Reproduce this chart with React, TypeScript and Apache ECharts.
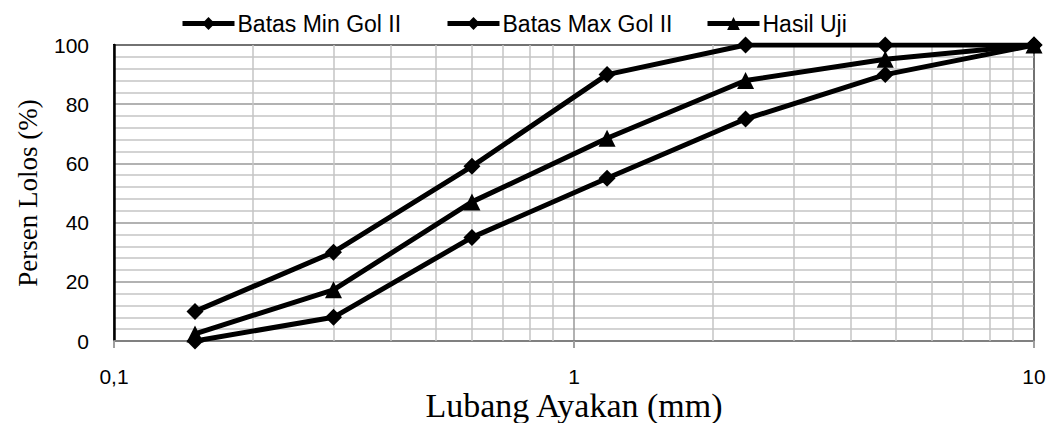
import React, { useEffect, useRef } from "react";
import * as echarts from "echarts";

const sieveSizes = [0.15, 0.3, 0.6, 1.18, 2.36, 4.75, 10];
const batasMin = [0, 8, 35, 55, 75, 90, 100];
const batasMax = [10, 30, 59, 90, 100, 100, 100];
const hasilUji = [2.4, 17.3, 47, 68.5, 88, 95.2, 100];
const minorXTicks = [0.2, 0.3, 0.4, 0.5, 0.6, 0.7, 0.8, 0.9, 2, 3, 4, 5, 6, 7, 8, 9];
const seriesNames = ["Batas Min Gol II", "Batas Max Gol II", "Hasil Uji"];
const legendLefts = [180, 445, 705];

const sans = "'Liberation Sans', Arial, sans-serif";
const serif = "'Liberation Serif', 'Times New Roman', serif";

export default function App() {
  const ref = useRef<HTMLDivElement>(null);
  useEffect(() => {
    document.body.style.margin = "0";
    if (!ref.current) return;
    const chart = echarts.init(ref.current, undefined, { renderer: "svg" });
    const pairs = (ys: number[]) => sieveSizes.map((x, i) => [x, ys[i]]);
    const mk = (name: string, ys: number[], symbol: string, size: number) => ({
      name,
      type: "line",
      data: pairs(ys),
      symbol,
      symbolSize: size,
      z: 5,
      lineStyle: { color: "#000", width: 5 },
      itemStyle: { color: "#000" },
    });
    chart.setOption({
      animation: false,
      backgroundColor: "#fff",
      legend: seriesNames.map((n, i) => ({
        left: legendLefts[i],
        top: 12,
        padding: 0,
        itemWidth: 52,
        itemHeight: 16,
        itemGap: 5,
        textStyle: { fontFamily: sans, fontSize: 23, color: "#000", padding: [0, 0, 0, -2] },
        lineStyle: { width: 5 },
        data: [n],
      })),
      grid: {
        left: 114,
        right: 16,
        top: 45,
        bottom: 82,
        show: true,
        borderColor: "#000",
        borderWidth: 2,
        containLabel: false,
        outerBoundsMode: "none",
      },
      xAxis: {
        type: "log",
        logBase: 10,
        min: 0.1,
        max: 10,
        name: "Lubang Ayakan (mm)",
        nameLocation: "middle",
        nameGap: 47,
        nameMoveOverlap: false,
        nameTextStyle: { fontFamily: serif, fontSize: 34, lineHeight: 34, color: "#000" },
        axisLine: { show: true, lineStyle: { color: "#808080", width: 2 } },
        axisTick: { show: true, length: 7, lineStyle: { color: "#a0a0a0", width: 2 } },
        axisLabel: {
          fontFamily: sans,
          fontSize: 21,
          lineHeight: 21,
          color: "#000",
          margin: 25,
          formatter: (v: number) => String(v).replace(".", ","),
        },
        splitLine: { show: true, lineStyle: { color: "#999", width: 1.5 } },
      },
      yAxis: {
        type: "value",
        min: 0,
        max: 100,
        interval: 20,
        name: "Persen Lolos (%)",
        nameLocation: "middle",
        nameGap: 73,
        nameMoveOverlap: false,
        nameTextStyle: { fontFamily: serif, fontSize: 27, color: "#000" },
        axisLine: { show: true, lineStyle: { color: "#000", width: 2.5 } },
        axisTick: { show: false },
        axisLabel: { fontFamily: sans, fontSize: 21, color: "#000", margin: 25 },
        splitLine: { show: true, lineStyle: { color: "#999", width: 1.5 } },
        minorTick: { show: false, splitNumber: 5 },
        minorSplitLine: { show: true, lineStyle: { color: "#c4c4c4", width: 1.5 } },
      },
      series: [
        {
          name: "grid-minor",
          type: "line",
          data: [],
          silent: true,
          z: 1,
          markLine: {
            silent: true,
            symbol: "none",
            label: { show: false },
            lineStyle: { color: "#c4c4c4", width: 1.5, type: "solid" },
            data: minorXTicks.map((v) => ({ xAxis: v })),
          },
        },
        mk(seriesNames[0], batasMin, "diamond", 17),
        mk(seriesNames[1], batasMax, "diamond", 17),
        mk(seriesNames[2], hasilUji, "triangle", 17),
      ],
    });
    return () => chart.dispose();
  }, []);
  return <div ref={ref} style={{ width: 1050, height: 423 }} />;
}
